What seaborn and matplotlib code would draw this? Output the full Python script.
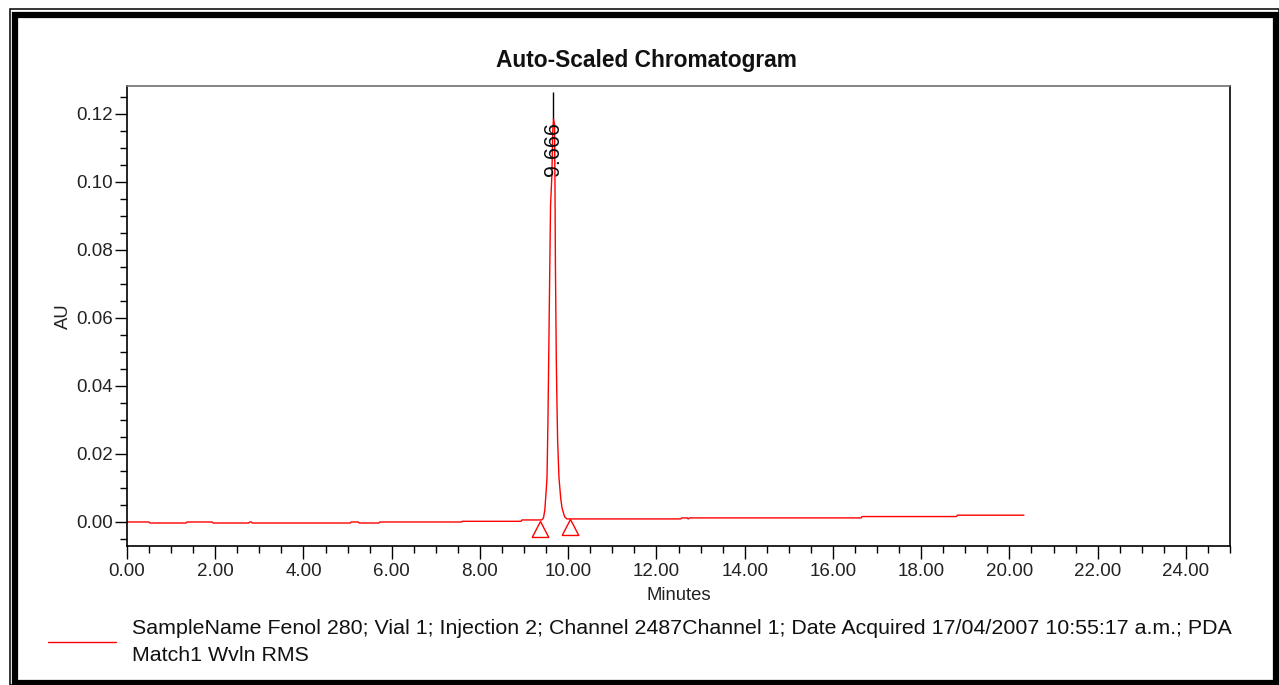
import numpy as np
import pandas as pd
import matplotlib
matplotlib.use("Agg")
import matplotlib.pyplot as plt
import seaborn as sns
from matplotlib.patches import Rectangle
from matplotlib.ticker import MultipleLocator, FormatStrFormatter

# ---- data ----
base_pre_t = [0.00, 0.50, 0.52, 1.34, 1.36, 1.93, 1.95, 2.76, 2.78, 2.82, 2.84, 5.06, 5.08,
              5.24, 5.26, 5.71, 5.73, 7.58, 7.60, 8.93, 8.95, 9.30, 9.40]
base_pre_v = [0.0000, 0.0000, -0.0003, -0.0003, 0.0000, 0.0000, -0.0003, -0.0003, 0.0000,
              0.0000, -0.0003, -0.0003, 0.0000, 0.0000, -0.0003, -0.0003, 0.0000, 0.0000,
              0.0002, 0.0002, 0.0006, 0.0006, 0.0006]
peak_t = [9.44, 9.47, 9.50, 9.52, 9.54, 9.56, 9.58, 9.60, 9.63, 9.65, 9.666, 9.69, 9.70,
          9.71, 9.72, 9.73, 9.745, 9.76, 9.79, 9.83, 9.86, 9.92, 9.97]
peak_v = [0.0012, 0.0035, 0.0090, 0.0132, 0.0290, 0.0500, 0.0720, 0.0930, 0.1020, 0.1150,
          0.1185, 0.1170, 0.1000, 0.0756, 0.0620, 0.0476, 0.0350, 0.0240, 0.0132, 0.0070,
          0.0041, 0.0015, 0.0009]
base_post_t = [10.05, 12.55, 12.57, 12.70, 12.72, 12.75, 16.64, 16.66, 18.80, 18.82, 20.33]
base_post_v = [0.0009, 0.0009, 0.0012, 0.0012, 0.0009, 0.0012, 0.0012, 0.0016, 0.0016,
               0.0020, 0.0020]

peak_rt = 9.666
peak_label = "9.666"
peak_apex = 0.1185
marker_top = 0.1265
int_t = [9.36, 10.04]
int_v = [0.0004, 0.0008]

title = "Auto-Scaled Chromatogram"
xlabel = "Minutes"
ylabel = "AU"
legend_label = ("SampleName Fenol 280; Vial 1; Injection 2; Channel 2487Channel 1; "
                "Date Acquired 17/04/2007 10:55:17 a.m.; PDA\nMatch1 Wvln RMS")
x_ticks = np.arange(0, 25, 2)
y_ticks = np.arange(0, 0.121, 0.02)

df = pd.DataFrame({
    "Minutes": base_pre_t + peak_t + base_post_t,
    "AU": base_pre_v + peak_v + base_post_v,
})

# ---- style ----
sns.set_style("ticks")
plt.rcParams["font.family"] = ["Liberation Sans", "DejaVu Sans"]
plt.rcParams["text.color"] = "#111111"

W, H = 1279, 685
fig = plt.figure(figsize=(W / 100, H / 100), dpi=100, facecolor="white")
ax = fig.add_axes([127 / W, (H - 546) / H, (1230 - 127) / W, (546 - 86) / H])

sns.lineplot(data=df, x="Minutes", y="AU", color="#ff0000", lw=1.0, ax=ax,
             estimator=None, sort=False, label=legend_label, legend=False)

# integration markers (triangle with apex on the baseline)
tri = [(-0.52, -1.0), (0.52, -1.0), (0.0, 0.0), (-0.52, -1.0)]
ax.plot(int_t, int_v, linestyle="none", marker=tri, markersize=23,
        markerfacecolor="none", markeredgecolor="#ff0000", markeredgewidth=1.0)

# retention-time marker and label
ax.vlines(peak_rt, peak_apex, marker_top, color="black", lw=1.0, zorder=1)
ax.text(peak_rt, 0.1176, peak_label, rotation=90, ha="center", va="top",
        fontsize=15.5, color="#111111", zorder=5)

ax.set_xlim(0, 25)
ax.set_ylim(-0.00706, 0.1282)
ax.set_xticks(x_ticks)
ax.set_yticks(y_ticks)
ax.xaxis.set_minor_locator(MultipleLocator(0.5))
ax.yaxis.set_minor_locator(MultipleLocator(0.005))
ax.xaxis.set_major_formatter(FormatStrFormatter("%.2f"))
ax.yaxis.set_major_formatter(FormatStrFormatter("%.2f"))
ax.tick_params(axis="both", which="major", direction="out", length=9, width=1,
               color="black", labelsize=13.5, labelcolor="#222222")
ax.tick_params(axis="y", which="major", pad=1)
ax.tick_params(axis="x", which="major", pad=3)
ax.tick_params(axis="both", which="minor", direction="out", length=5, width=1, color="black")
ax.set_xlabel(xlabel, fontsize=13.3, labelpad=5, color="#222222")
ax.set_ylabel(ylabel, fontsize=13.3, labelpad=3, color="#222222")

for side in ["left", "bottom", "right", "top"]:
    ax.spines[side].set_visible(True)
    ax.spines[side].set_linewidth(1.2)
    ax.spines[side].set_color("black")
ax.spines["top"].set_color("#707070")

fig.text(646 / W, 1 - 60 / H, title, ha="center", va="center", fontsize=16.4,
         fontweight="bold", color="#111111")

# legend
handles, labels = ax.get_legend_handles_labels()
leg = fig.legend(handles, labels, loc="center left", bbox_to_anchor=(48 / W, 1 - 642 / H),
                 frameon=False, fontsize=15.4, handlelength=3.2, handletextpad=0.75,
                 borderpad=0, borderaxespad=0)
for t in leg.get_texts():
    t.set_linespacing(1.55)
    t.set_color("#111111")

# figure border (double frame)
fig.patches.append(Rectangle((9.5 / W, 0), (W - 9.5) / W, (H - 8.5) / H, transform=fig.transFigure,
                             fill=False, edgecolor="black", lw=1.1, figure=fig))
fig.patches.append(Rectangle((15 / W, (H - 682.5) / H), (1275.5 - 15) / W, (682.5 - 15) / H,
                             transform=fig.transFigure, fill=False, edgecolor="black",
                             lw=4.5, figure=fig))

fig.savefig("out.png", dpi=100, facecolor="white")
